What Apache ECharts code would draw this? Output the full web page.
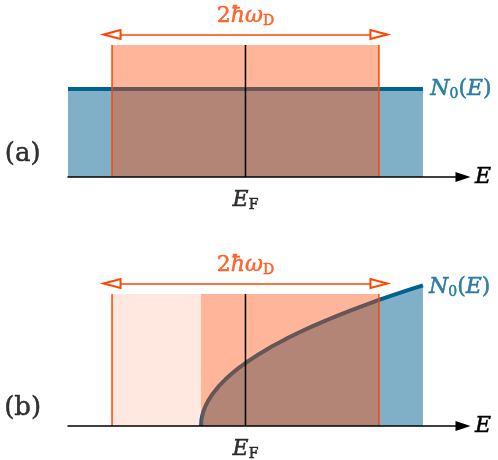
<!DOCTYPE html>
<html>
<head>
<meta charset="utf-8">
<script src="https://cdn.jsdelivr.net/npm/echarts@6/dist/echarts.min.js"></script>
<style>
  html, body { margin: 0; background: #fff; }
  #chart { width: 498px; height: 460px; }
</style>
</head>
<body>
<div id="chart"></div>
<script>
// energy axis in units of hbar*omega_D, measured from E_F
const debyeEdges = [-1, 1]
const bandTop = 1.5
const arrowLevel = 1.62
// (a) constant density of states
const flatDosA = [[-1.33, 1], [1.33, 1]]
// (b) square-root density of states, band bottom at -1/3
const bandBottomB = -0.333
const dosE = [-0.333, -0.33, -0.325, -0.315, -0.3, -0.28, -0.25, -0.2, -0.15, -0.1, -0.05, 0, 0.1, 0.2, 0.3, 0.4, 0.5, 0.6, 0.7, 0.8, 0.9, 1.0, 1.1, 1.2, 1.33]
const dosN = [0, 0.071, 0.113, 0.168, 0.226, 0.286, 0.358, 0.453, 0.531, 0.599, 0.66, 0.716, 0.816, 0.906, 0.987, 1.062, 1.132, 1.198, 1.26, 1.32, 1.377, 1.432, 1.485, 1.535, 1.599]
// label anchors
const panelNames = ['(a)', '(b)']
const panelNamePos = [[-1.67, 0.26], [-1.67, 0.2]]
const dosLabelPos = [[1.37, 1.0], [1.36, 1.58]]
const omegaLabelY = 1.83
const fermiLabelY = -0.27

const ORANGE = '#ff4500'
const BLUE = '#006290'
const MATH = 'DejaVu Serif'

function richFor (color) {
  const b = { textBorderColor: color, textBorderWidth: 0.5 }
  return {
    n: Object.assign({ fontFamily: MATH, fontSize: 22 }, b),
    i: Object.assign({ fontFamily: MATH, fontStyle: 'italic', fontSize: 22 }, b),
    s: Object.assign({ fontFamily: MATH, fontSize: 14, padding: [10, 0, 0, 0] }, b)
  }
}

function textPoint (gi, pos, text, color, position) {
  return {
    type: 'scatter',
    xAxisIndex: gi,
    yAxisIndex: gi,
    clip: false,
    silent: true,
    symbolSize: 0,
    z: 10,
    data: [pos],
    label: {
      show: true,
      position: position || 'inside',
      distance: 2,
      color: color,
      fontFamily: MATH,
      fontSize: 22,
      formatter: text,
      rich: richFor(color)
    }
  }
}

function vline (gi, x, color) {
  return {
    type: 'line',
    xAxisIndex: gi,
    yAxisIndex: gi,
    silent: true,
    showSymbol: false,
    z: 6,
    data: [[x, 0], [x, bandTop]],
    lineStyle: { color: color, width: 1.5 }
  }
}

function band (gi, x0, x1, alpha) {
  return {
    type: 'line',
    xAxisIndex: gi,
    yAxisIndex: gi,
    silent: true,
    showSymbol: false,
    z: 4,
    data: [[x0, bandTop], [x1, bandTop]],
    lineStyle: { width: 0, opacity: 0 },
    areaStyle: { color: 'rgba(255,69,0,' + alpha + ')', opacity: 1 }
  }
}

function dos (gi, data) {
  return {
    type: 'line',
    xAxisIndex: gi,
    yAxisIndex: gi,
    silent: true,
    showSymbol: false,
    z: 2,
    data: data,
    lineStyle: { color: BLUE, width: 4, join: 'round' },
    areaStyle: { color: 'rgba(0,98,144,0.5)', opacity: 1, origin: 0 }
  }
}

function arrowLine (gi) {
  return {
    type: 'line',
    xAxisIndex: gi,
    yAxisIndex: gi,
    silent: true,
    data: [],
    markLine: {
      silent: true,
      animation: false,
      symbol: ['emptyTriangle', 'emptyTriangle'],
      symbolSize: [9, 17],
      label: { show: false },
      lineStyle: { color: ORANGE, width: 1.5, type: 'solid' },
      data: [[{ coord: [debyeEdges[0], arrowLevel] }, { coord: [debyeEdges[1], arrowLevel] }]]
    }
  }
}

function panelSeries (gi) {
  const list = []
  if (gi === 0) {
    list.push(dos(0, flatDosA))
    list.push(band(0, debyeEdges[0], debyeEdges[1], 0.4))
  } else {
    list.push(dos(1, dosE.map((e, k) => [e, dosN[k]])))
    list.push(band(1, debyeEdges[0], bandBottomB, 0.12))
    list.push(band(1, bandBottomB, debyeEdges[1], 0.4))
  }
  debyeEdges.forEach(x => list.push(vline(gi, x, ORANGE)))
  list.push(vline(gi, 0, '#000'))
  list.push(arrowLine(gi))
  list.push(textPoint(gi, [0, omegaLabelY], '{n|2}{i|ħω}{s|D}', ORANGE))
  list.push(textPoint(gi, [0, fermiLabelY], '{i|E}{s|F}', '#000'))
  list.push(textPoint(gi, dosLabelPos[gi], '{i|N}{s|0}{n|(}{i|E}{n|)}', BLUE, 'right'))
  list.push({
    type: 'scatter',
    xAxisIndex: gi,
    yAxisIndex: gi,
    clip: false,
    silent: true,
    symbolSize: 0,
    data: [panelNamePos[gi]],
    label: {
      show: true,
      position: 'inside',
      formatter: panelNames[gi],
      color: '#000',
      textBorderColor: '#000',
      textBorderWidth: 0.5,
      fontFamily: 'DejaVu Serif',
      fontSize: 26
    }
  })
  return list
}

function xAxisFor (gi) {
  return {
    type: 'value',
    gridIndex: gi,
    min: -1.33,
    max: 1.63,
    name: 'E',
    nameLocation: 'end',
    nameGap: 12,
    nameTextStyle: {
      fontFamily: MATH,
      fontStyle: 'italic',
      fontSize: 22,
      color: '#000',
      textBorderColor: '#000',
      textBorderWidth: 0.5,
      padding: [8, 0, 0, 0]
    },
    axisLine: {
      show: true,
      onZero: true,
      symbol: ['none', 'triangle'],
      symbolSize: [10, 15],
      lineStyle: { color: '#000', width: 1.5 }
    },
    axisTick: { show: false },
    axisLabel: { show: false },
    splitLine: { show: false },
    z: 8
  }
}

const chart = echarts.init(document.getElementById('chart'))
chart.setOption({
  animation: false,
  grid: [
    { left: 68, right: 35, top: 1, height: 220 },
    { left: 68, right: 35, top: 250, height: 206.8 }
  ],
  xAxis: [xAxisFor(0), xAxisFor(1)],
  yAxis: [
    { type: 'value', gridIndex: 0, min: -0.5, max: 2, show: false },
    { type: 'value', gridIndex: 1, min: -0.35, max: 2, show: false }
  ],
  series: panelSeries(0).concat(panelSeries(1))
})
</script>
</body>
</html>
